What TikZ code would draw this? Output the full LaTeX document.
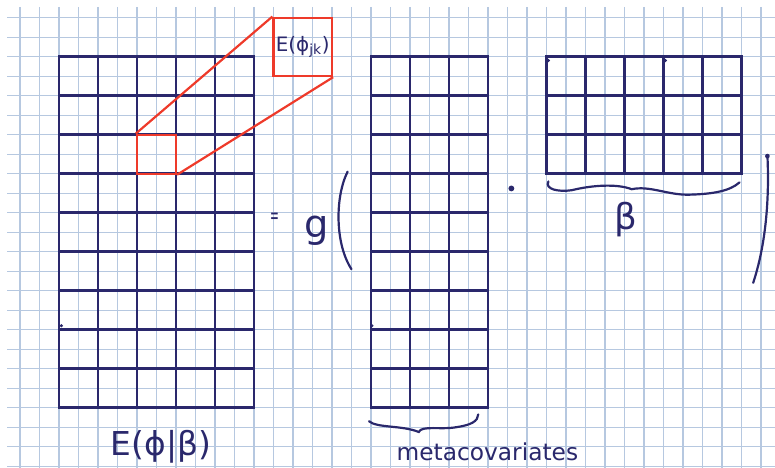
\documentclass[tikz,border=0pt]{standalone}
\usepackage{fontspec}
\setmainfont{DejaVu Sans}
\usetikzlibrary{positioning,calc}
\definecolor{ink}{RGB}{42,40,108}
\definecolor{pen}{RGB}{238,58,42}
\definecolor{paper}{RGB}{182,200,224}
\tikzset{
  gridline/.style={draw=paper,line width=0.8pt},
  cellline/.style={draw=ink,line width=2pt,line cap=rect},
  zoombox/.style={draw=pen,line width=1.6pt,inner sep=0pt,minimum size=1cm},
  zoomline/.style={draw=pen,line width=1.6pt},
  hand/.style={draw=ink,line width=1.6pt,line cap=round},
  handtext/.style={text=ink,inner sep=0pt},
}

\begin{document}
\begin{tikzpicture}[x=0.5cm,y=-0.5cm]
  \useasboundingbox (-1.026,-0.905) rectangle (38.72,23.08);
  % squared paper
  \foreach \x in {0,...,38} \draw[gridline] (\x,-0.55) -- (\x,23.08);
  \foreach \y in {0,...,23} \draw[gridline] (-0.66,\y) -- (38.72,\y);

  % E(phi|beta): 9 x 5
  \foreach \c in {0,...,5} \draw[cellline] (2+2*\c,2) -- (2+2*\c,20);
  \foreach \r in {0,...,9} \draw[cellline] (2,2+2*\r) -- (12,2+2*\r);
  % metacovariates: 9 x 3
  \foreach \c in {0,...,3} \draw[cellline] (18+2*\c,2) -- (18+2*\c,20);
  \foreach \r in {0,...,9} \draw[cellline] (18,2+2*\r) -- (24,2+2*\r);
  % beta: 3 x 5
  \foreach \c in {0,...,5} \draw[cellline] (27+2*\c,2) -- (27+2*\c,8);
  \foreach \r in {0,...,3} \draw[cellline] (27,2+2*\r) -- (37,2+2*\r);

  % stray pen dots
  \foreach \p in {(2.12,15.8),(18.05,15.8),(27.1,2.2),(33.1,2.2)}
    \fill[ink] \p circle[radius=0.09];

  % zoomed cell
  \node[zoombox] (cell) at (7,7) {};
  \node[zoombox,minimum size=1.5cm,font=\fontsize{14.5}{14.5}\selectfont,text=ink] (zoom) at (14.5,1.5) {E(ϕ\textsubscript{jk})};
  \draw[zoomline] (cell.north west) -- (zoom.north west);
  \draw[zoomline] (cell.south east) -- (zoom.south east);

  % labels
  \node[handtext,font=\fontsize{24}{24}\selectfont] (phi) at (7.22,22.0) {E(ϕ|β)};
  \node[handtext,font=\fontsize{14}{14}\selectfont] (eq) at (13.05,10.3) {\scalebox{0.55}[1.2]{=}};
  \node[handtext,font=\fontsize{28}{28}\selectfont] (link) at (15.2,10.95) {g};
  \node[handtext,font=\fontsize{17}{17}\selectfont,anchor=base] (meta) at (23.97,22.7) {metacovariates};
  \node[handtext,font=\fontsize{26}{26}\selectfont] (beta) at (31.05,10.35) {β};
  \fill[ink] (25.2,8.76) circle[radius=0.15];

  % brackets
  \draw[hand] (16.8,7.9) .. controls (16.15,9.2) and (16.15,11.6) .. (17.0,12.9);
  \draw[hand] (38.33,7.05) .. controls (38.45,9.5) and (38.2,11.8) .. (37.6,13.6);
  \fill[ink] (38.33,7.1) circle[radius=0.12];

  % braces
  \draw[hand] (27.1,8.4) .. controls (26.9,8.8) and (27.6,8.95) .. (28.3,8.85)
    .. controls (29.3,8.6) and (30.6,8.5) .. (31.37,8.8)
    .. controls (32.3,8.6) and (33.2,9.1) .. (34.3,9.08)
    .. controls (35.5,9.05) and (36.4,8.9) .. (36.9,8.45);
  \draw[hand] (17.9,20.7) .. controls (18.3,21.05) and (19.6,20.9) .. (20.45,21.25)
    .. controls (20.6,20.9) and (21.6,21.15) .. (22.4,21.0)
    .. controls (23.1,20.9) and (23.5,20.7) .. (23.5,20.35);
\end{tikzpicture}
\end{document}
